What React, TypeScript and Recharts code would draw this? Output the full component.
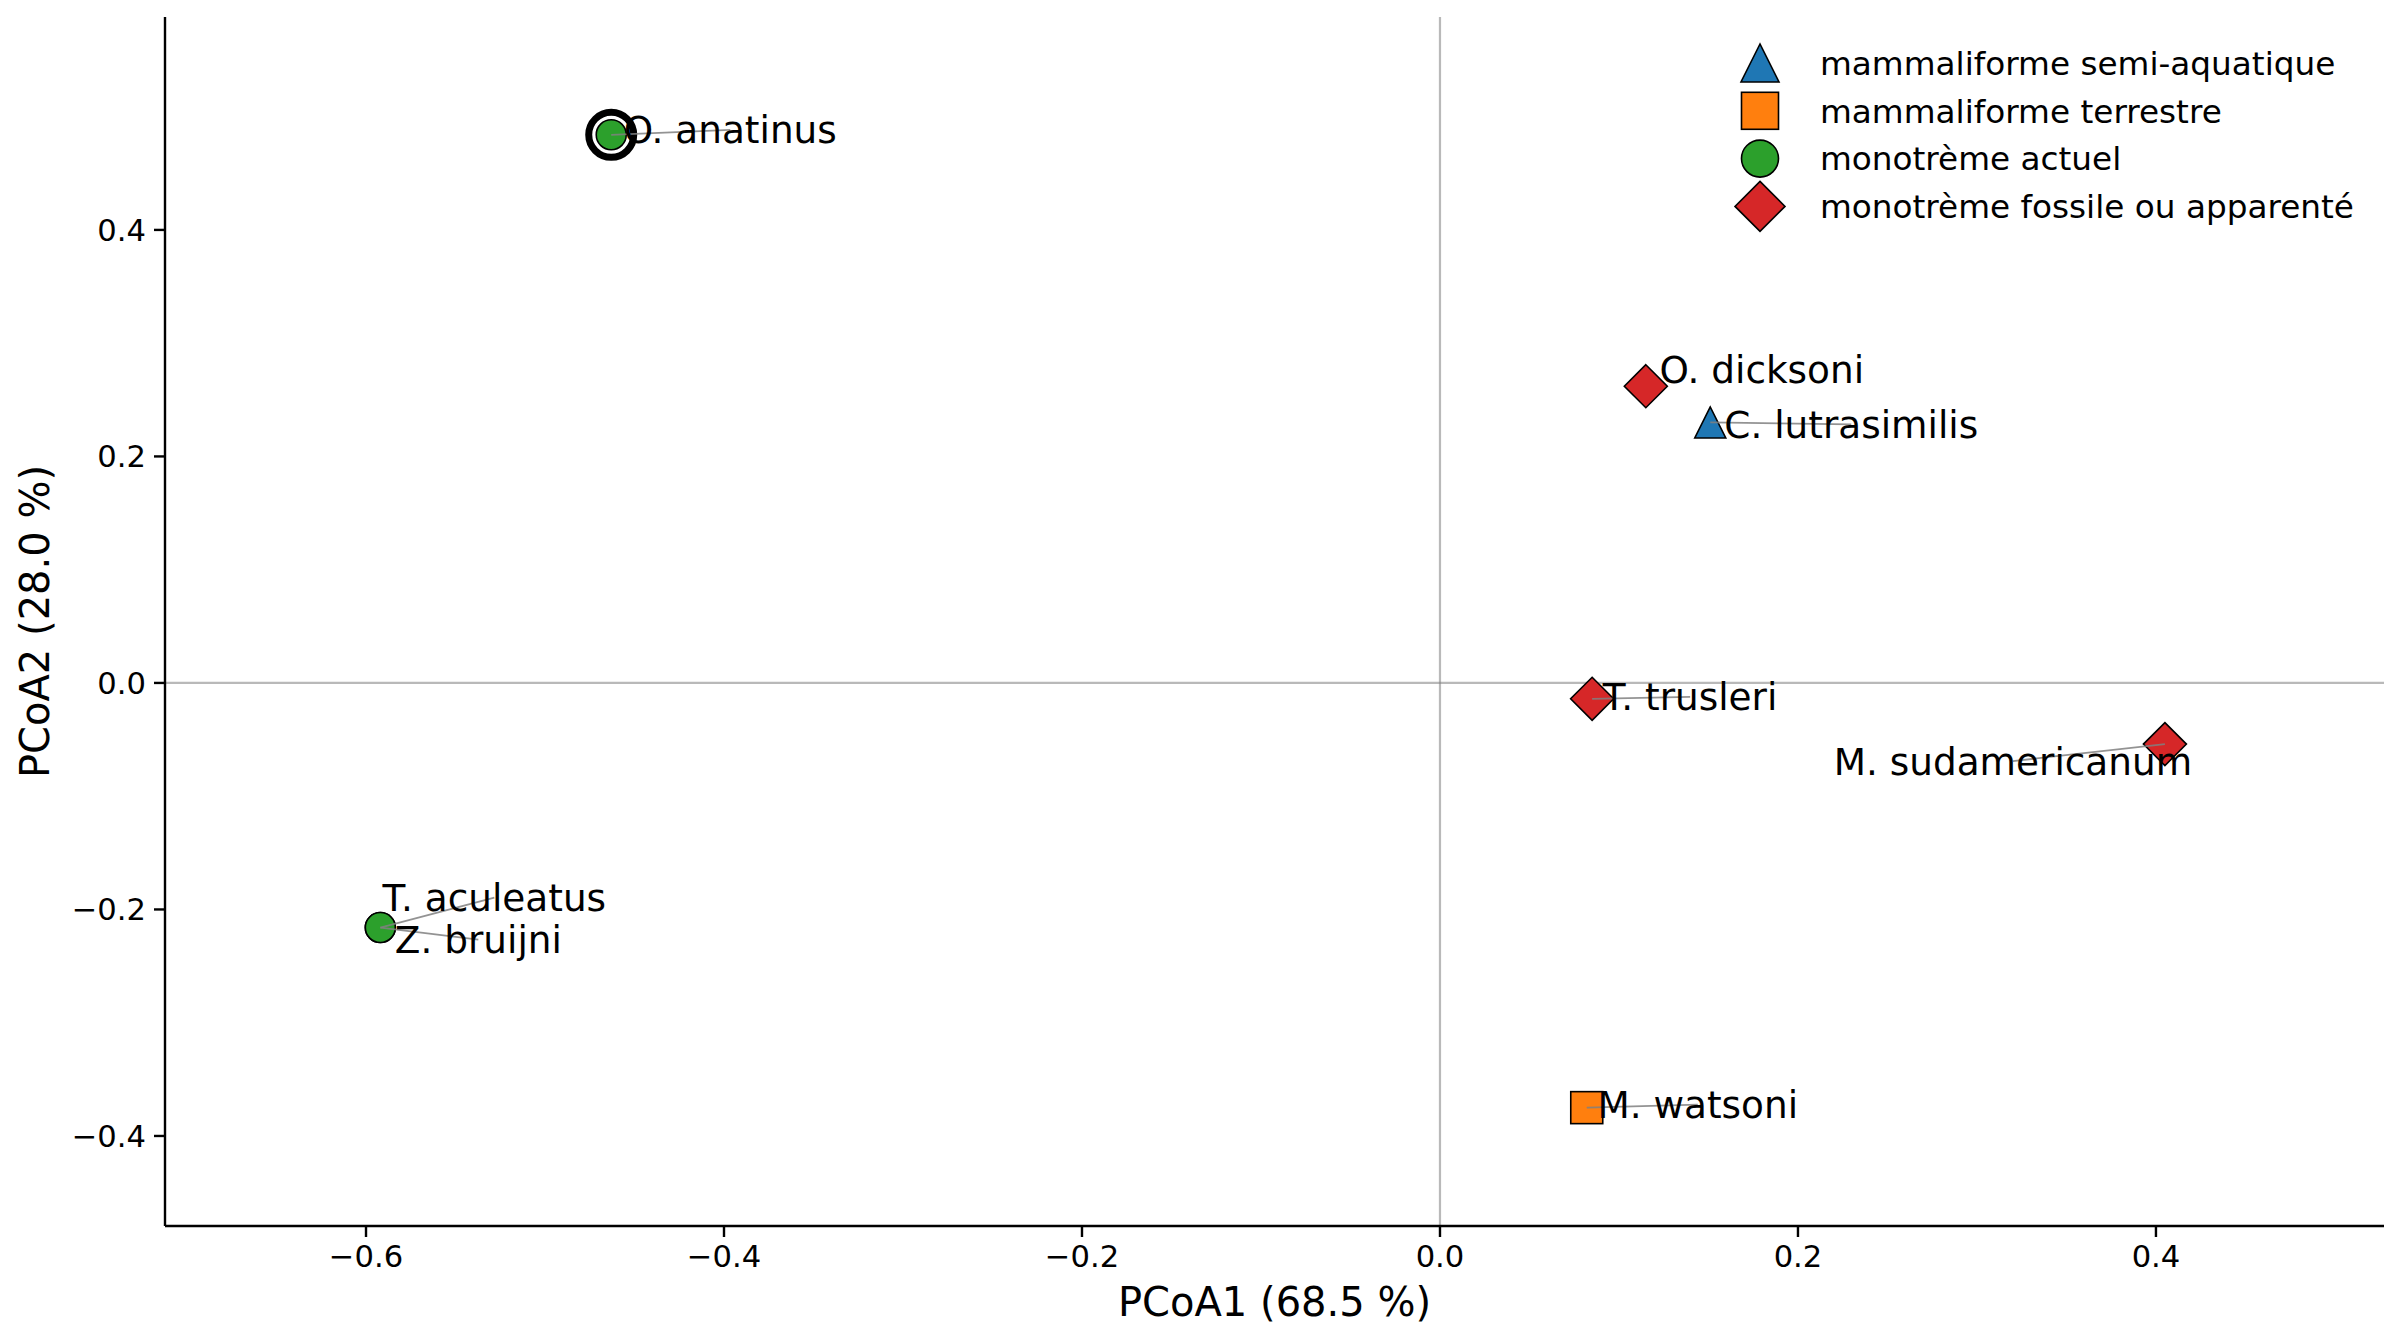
import React from "react";
import {
  ScatterChart,
  Scatter,
  XAxis,
  YAxis,
  ReferenceLine,
  Legend,
  Label,
} from "recharts";

// PCoA scores, one list per ecological group
const semiAquatic = [{ name: "C. lutrasimilis", x: 0.151, y: 0.23 }];
const terrestrial = [{ name: "M. watsoni", x: 0.082, y: -0.375 }];
const extantMonotremes = [
  { name: "O. anatinus", x: -0.463, y: 0.484 },
  { name: "T. aculeatus", x: -0.592, y: -0.216 },
  { name: "Z. bruijni", x: -0.592, y: -0.216 },
];
const fossilMonotremes = [
  { name: "O. dicksoni", x: 0.115, y: 0.262 },
  { name: "T. trusleri", x: 0.085, y: -0.014 },
  { name: "M. sudamericanum", x: 0.405, y: -0.054 },
];
const highlighted = ["O. anatinus"];

const groupLabels = [
  "mammaliforme semi-aquatique",
  "mammaliforme terrestre",
  "monotrème actuel",
  "monotrème fossile ou apparenté",
];

const xTicks = [-0.6, -0.4, -0.2, 0, 0.2, 0.4];
const yTicks = [-0.4, -0.2, 0, 0.2, 0.4];

const X_DOMAIN: [number, number] = [-0.7123, 0.5274];
const Y_DOMAIN: [number, number] = [-0.4795, 0.588];

const FONT = "'DejaVu Sans', sans-serif";

type Kind = "triangle" | "square" | "circle" | "diamond";

const GROUP_STYLE: { kind: Kind; color: string }[] = [
  { kind: "triangle", color: "#1f77b4" },
  { kind: "square", color: "#ff7f0e" },
  { kind: "circle", color: "#2ca02c" },
  { kind: "diamond", color: "#d62728" },
];

// half-extent of each marker in px
const PLOT_SIZE: Record<Kind, number> = { triangle: 15.5, square: 16, circle: 15, diamond: 21.5 };
const LEGEND_SIZE: Record<Kind, number> = { triangle: 19, square: 18.5, circle: 18.5, diamond: 25 };

// text centre relative to the marker (px), and whether a leader line is drawn
const LABEL_OFFSET: Record<string, { dx: number; dy: number; line: boolean }> = {
  "O. anatinus": { dx: 119, dy: -5, line: true },
  "T. aculeatus": { dx: 114, dy: -30, line: true },
  "Z. bruijni": { dx: 98, dy: 12, line: true },
  "O. dicksoni": { dx: 116, dy: -17, line: false },
  "C. lutrasimilis": { dx: 141, dy: 2, line: true },
  "T. trusleri": { dx: 98, dy: -2, line: true },
  "M. sudamericanum": { dx: -152, dy: 17, line: true },
  "M. watsoni": { dx: 111, dy: -3, line: true },
};

const allPoints = [...semiAquatic, ...terrestrial, ...extantMonotremes, ...fossilMonotremes];
const ringPoints = allPoints.filter((p) => highlighted.includes(p.name));

const fmt = (v: number) => v.toFixed(1).replace("-", "\u2212");

function Marker({ kind, cx, cy, s, color }: { kind: Kind; cx: number; cy: number; s: number; color: string }) {
  const edge = { stroke: "#000", strokeWidth: 1.6, strokeLinejoin: "miter" as const };
  if (kind === "circle") return <circle cx={cx} cy={cy} r={s} fill={color} {...edge} />;
  if (kind === "square")
    return <rect x={cx - s} y={cy - s} width={2 * s} height={2 * s} fill={color} {...edge} />;
  if (kind === "triangle")
    return (
      <polygon
        points={`${cx},${cy - s} ${cx - s},${cy + s} ${cx + s},${cy + s}`}
        fill={color}
        {...edge}
      />
    );
  return (
    <polygon
      points={`${cx},${cy - s} ${cx + s},${cy} ${cx},${cy + s} ${cx - s},${cy}`}
      fill={color}
      {...edge}
    />
  );
}

const pointShape = (kind: Kind, color: string) => (props: any) =>
  <Marker kind={kind} cx={props.cx} cy={props.cy} s={PLOT_SIZE[kind]} color={color} />;

const ringShape = (props: any) => (
  <circle cx={props.cx} cy={props.cy} r={22.5} fill="none" stroke="#000" strokeWidth={7} />
);

const labelShape = (props: any) => {
  const off = LABEL_OFFSET[props.payload.name];
  const tx = props.cx + off.dx;
  const ty = props.cy + off.dy;
  return (
    <g>
      {off.line && (
        <line x1={props.cx} y1={props.cy} x2={tx} y2={ty} stroke="#808080" strokeWidth={1.8} strokeOpacity={0.85} />
      )}
      <text x={tx} y={ty} dy="0.36em" textAnchor="middle" fontSize={37.4} fontFamily={FONT} fill="#000">
        {props.payload.name}
      </text>
    </g>
  );
};

const renderLegend = () => (
  <svg width={680} height={210}>
    {groupLabels.map((label, i) => {
      const st = GROUP_STYLE[i];
      const y = 33 + i * 47.8;
      return (
        <g key={label}>
          <Marker kind={st.kind} cx={40} cy={y} s={LEGEND_SIZE[st.kind]} color={st.color} />
          <text x={100} y={y} dy="0.36em" fontSize={32.7} fontFamily={FONT} fill="#000">
            {label}
          </text>
        </g>
      );
    })}
  </svg>
);

const series = [semiAquatic, terrestrial, extantMonotremes, fossilMonotremes];

export default function App() {
  return (
    <div style={{ position: "absolute", left: 0, top: 0, background: "#fff", fontFamily: FONT }}>
      <ScatterChart width={2400} height={1343} margin={{ top: 17, right: 16, bottom: 0, left: 0 }}>
        <XAxis
          type="number"
          dataKey="x"
          domain={X_DOMAIN}
          ticks={xTicks}
          interval={0}
          allowDataOverflow
          height={117}
          tickFormatter={fmt}
          tick={{ fontSize: 30.6, fill: "#000", fontFamily: FONT }}
          tickSize={11}
          tickMargin={8}
          axisLine={{ stroke: "#000", strokeWidth: 2.4 }}
          tickLine={{ stroke: "#000", strokeWidth: 2.4 }}
        >
          <Label
            content={(p: any) => {
              const vb = p.viewBox;
              return (
                <text x={vb.x + vb.width / 2} y={vb.y + 76} dy="0.36em" textAnchor="middle" fontSize={40} fontFamily={FONT} fill="#000">
                  PCoA1 (68.5 %)
                </text>
              );
            }}
          />
        </XAxis>
        <YAxis
          type="number"
          dataKey="y"
          domain={Y_DOMAIN}
          ticks={yTicks}
          interval={0}
          allowDataOverflow
          width={165}
          tickFormatter={fmt}
          tick={{ fontSize: 30.6, fill: "#000", fontFamily: FONT }}
          tickSize={11}
          tickMargin={8}
          axisLine={{ stroke: "#000", strokeWidth: 2.4 }}
          tickLine={{ stroke: "#000", strokeWidth: 2.4 }}
        >
          <Label
            content={(p: any) => {
              const vb = p.viewBox;
              const cy = vb.y + vb.height / 2;
              return (
                <text x={35} y={cy} dy="0.36em" textAnchor="middle" transform={`rotate(-90 35 ${cy})`} fontSize={40} fontFamily={FONT} fill="#000">
                  PCoA2 (28.0 %)
                </text>
              );
            }}
          />
        </YAxis>
        <ReferenceLine x={0} stroke="#808080" strokeOpacity={0.55} strokeWidth={2.2} />
        <ReferenceLine y={0} stroke="#808080" strokeOpacity={0.55} strokeWidth={2.2} />
        {series.map((data, i) => (
          <Scatter
            key={groupLabels[i]}
            name={groupLabels[i]}
            data={data}
            shape={pointShape(GROUP_STYLE[i].kind, GROUP_STYLE[i].color)}
            isAnimationActive={false}
          />
        ))}
        <Scatter data={ringPoints} shape={ringShape} legendType="none" isAnimationActive={false} />
        <Scatter data={allPoints} shape={labelShape} legendType="none" isAnimationActive={false} />
        <Legend
          layout="horizontal"
          verticalAlign="middle"
          align="center"
          content={renderLegend}
          wrapperStyle={{ position: "absolute", top: 30, left: 1720, width: 680, height: 210 }}
        />
      </ScatterChart>
    </div>
  );
}
